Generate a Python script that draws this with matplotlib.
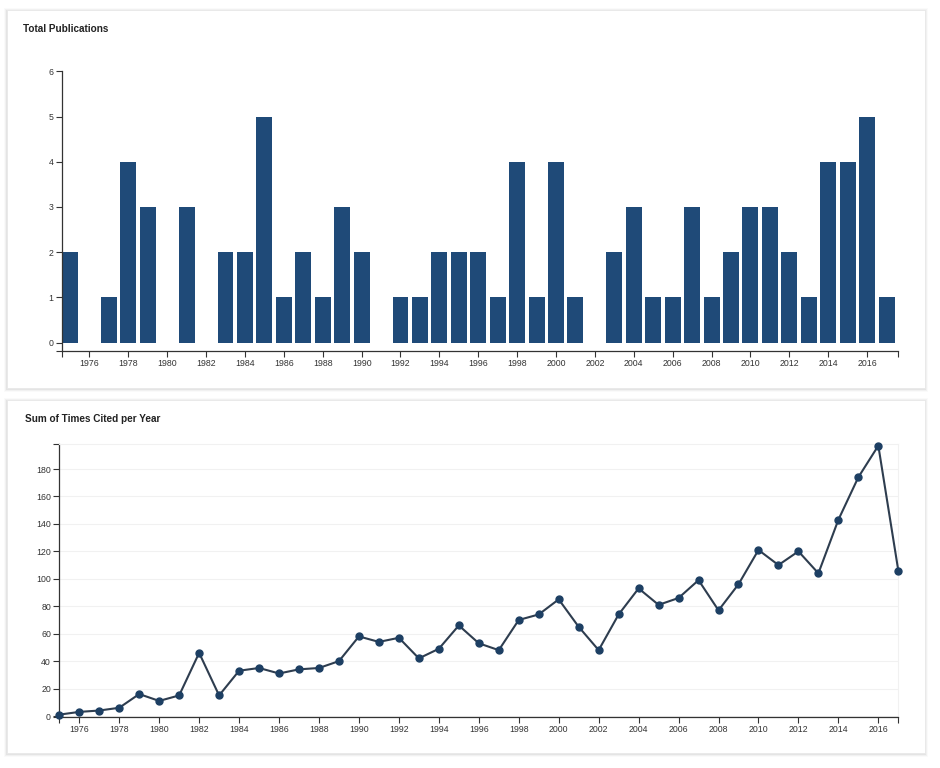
import matplotlib
matplotlib.use("Agg")
import matplotlib.pyplot as plt
from matplotlib.patches import Rectangle

plt.rcParams['font.family'] = ['Liberation Sans', 'DejaVu Sans']

years = list(range(1975, 2018))
publications = [2, 0, 1, 4, 3, 0, 3, 0, 2, 2, 5, 1, 2, 1, 3, 2, 0, 1, 1, 2,
                2, 2, 1, 4, 1, 4, 1, 0, 2, 3, 1, 1, 3, 1, 2, 3, 3, 2, 1, 4,
                4, 5, 1]
citations = [1, 3, 4, 6, 16, 11, 15, 46, 15, 33, 35, 31, 34, 35, 40, 58, 54, 57, 42, 49,
             66, 53, 48, 70, 74, 85, 65, 48, 74, 93, 81, 86, 99, 77, 96, 121, 110, 120, 104, 143,
             174, 197, 106]
tick_years = list(range(1976, 2017, 2))
pub_ticks = [0, 1, 2, 3, 4, 5, 6]
cite_ticks = list(range(0, 181, 20))

W, H = 940, 768
fig = plt.figure(figsize=(W / 100, H / 100), dpi=100)
fig.patch.set_facecolor('white')

def card(x0, y0, x1, y1):
    for i, a in enumerate([0.05, 0.035, 0.02]):
        d = i + 1
        fig.patches.append(Rectangle(((x0 - d) / W, 1 - (y1 + d + 1) / H),
                                     (x1 - x0 + 2 * d) / W, (y1 - y0 + 2 * d) / H,
                                     transform=fig.transFigure, facecolor='black',
                                     alpha=a, edgecolor='none', zorder=-3))
    fig.patches.append(Rectangle((x0 / W, 1 - y1 / H), (x1 - x0) / W, (y1 - y0) / H,
                                 transform=fig.transFigure, facecolor='white',
                                 edgecolor='#e8e8e8', linewidth=0.6, zorder=-2))

card(7, 10, 925, 388)
card(7, 400, 925, 753)

def ax_rect(l, t, r, b):
    return [l / W, 1 - b / H, (r - l) / W, (b - t) / H]

axis_col = '#333333'
tick_kw = dict(labelsize=6.3, colors=axis_col, length=4, width=0.8, pad=2)
minor_kw = dict(which='minor', colors=axis_col, length=4, width=0.8)

def style(ax):
    ax.tick_params(axis='both', **tick_kw)
    ax.tick_params(axis='both', **minor_kw)
    x0, x1 = ax.get_xlim()
    y0, y1 = ax.get_ylim()
    ax.set_xticks([x0, x1], minor=True)
    ax.set_yticks([y0, y1], minor=True)
    ax.set_xlim(x0, x1)
    ax.set_ylim(y0, y1)
    for s in ['left', 'bottom']:
        ax.spines[s].set_color(axis_col)
        ax.spines[s].set_linewidth(0.9)
    ax.patch.set_alpha(0)
    ax.set_zorder(2)

# ---- Top: Total Publications ----
ax1 = fig.add_axes(ax_rect(62, 71.3, 898, 350.7))
ax1.bar(years, publications, width=0.82, color='#1f4a78', zorder=2)
ax1.set_xlim(1974.59, 2017.59)
ax1.set_ylim(-0.177, 6)
ax1.set_xticks(tick_years)
ax1.set_yticks(pub_ticks)
for s in ['top', 'right']:
    ax1.spines[s].set_visible(False)
style(ax1)
fig.text(23 / W, 1 - 29 / H, 'Total Publications', fontsize=7.2, fontweight='bold',
         color='#222222', va='center', ha='left')

# ---- Bottom: Sum of Times Cited per Year ----
ax2 = fig.add_axes(ax_rect(59.3, 444.3, 898.3, 716.7))
ax2.plot(years, citations, color='#2e3d4f', linewidth=1.5, zorder=3, clip_on=False)
ax2.plot(years, citations, linestyle='none', marker='o', markersize=5,
         color='#1d3f63', zorder=4, clip_on=False)
ax2.set_xlim(1975, 2017)
ax2.set_ylim(-0.5, 198)
ax2.set_xticks(tick_years)
ax2.set_yticks(cite_ticks)
ax2.grid(axis='y', which='major', color='#f1f1f1', linewidth=0.8, zorder=0)
ax2.set_axisbelow(True)
for s in ['top', 'right']:
    ax2.spines[s].set_color('#f1f1f1')
    ax2.spines[s].set_linewidth(0.8)
style(ax2)
fig.text(25 / W, 1 - 419 / H, 'Sum of Times Cited per Year', fontsize=7.2,
         fontweight='bold', color='#222222', va='center', ha='left')

fig.savefig('out.png', dpi=100, facecolor='white')
